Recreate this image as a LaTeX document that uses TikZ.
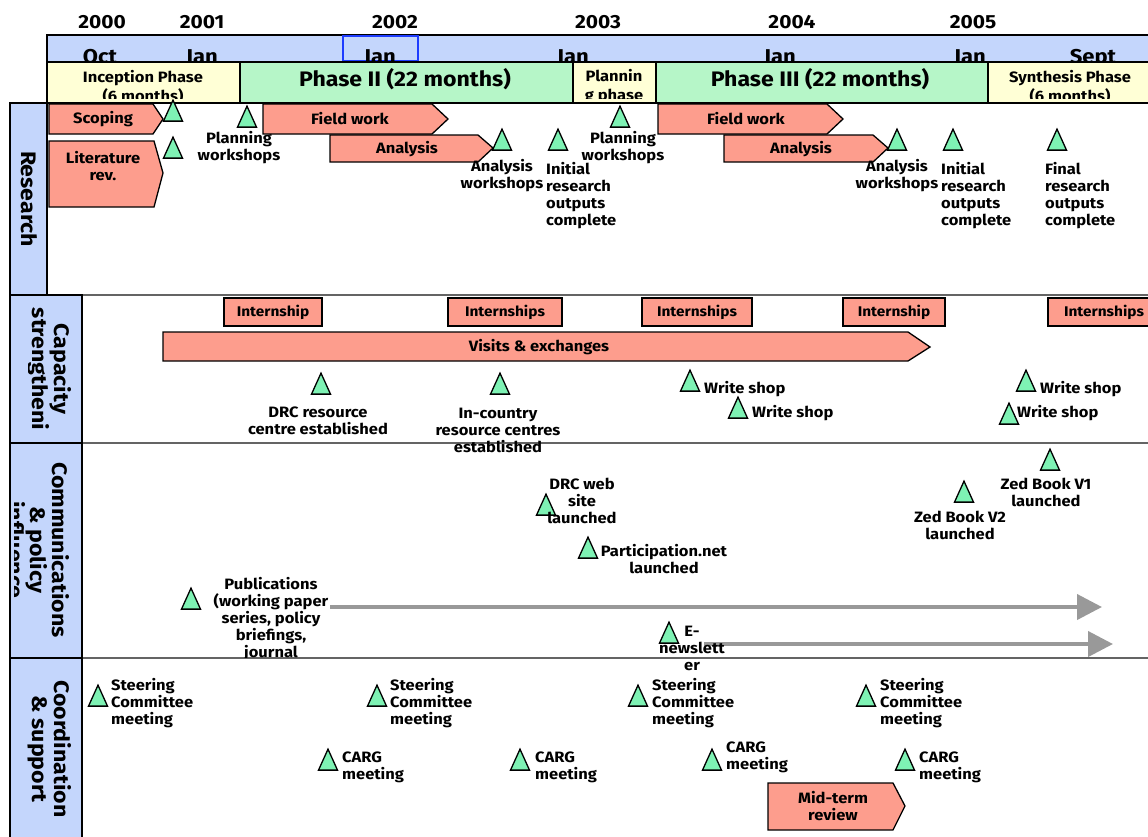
\documentclass[tikz,border=0pt]{standalone}
\usepackage{fontspec}
\setmainfont{Fira Sans}[FakeStretch=1.1]
\usetikzlibrary{arrows.meta,shapes.geometric}
\definecolor{salmon}{RGB}{253,157,141}
\definecolor{msgreen}{RGB}{126,242,180}
\definecolor{rowblue}{RGB}{196,214,252}
\definecolor{phaseyellow}{RGB}{255,255,214}
\definecolor{phasegreen}{RGB}{182,246,200}
\definecolor{sepgray}{RGB}{100,100,100}
\definecolor{arrgray}{RGB}{153,153,153}
\definecolor{janblue}{RGB}{30,60,255}

\begin{document}
\begin{tikzpicture}[x=1pt, y=-1pt,
    lbl/.style={font=\bfseries\fontsize{15}{17}\selectfont, align=center, inner sep=0},
    lbll/.style={lbl, align=left, anchor=west},
    boxtxt/.style={font=\bfseries\fontsize{15}{17}\selectfont, align=center, inner sep=0},
    phasetxt/.style={boxtxt, font=\bfseries\fontsize{15}{19}\selectfont},
    ms/.style={isosceles triangle, isosceles triangle stretches, shape border rotate=90,
        minimum width=19, minimum height=21, inner sep=0, draw=black, line width=1.3pt, fill=msgreen},
    chev/.style={draw=black, line width=1.3pt, fill=salmon},
    intern/.style={boxtxt, font=\bfseries\fontsize{14}{17}\selectfont, draw=black, line width=1.3pt, fill=salmon, minimum height=28},
    hdr/.style={draw=black, line width=1.5pt},
    rowbox/.style={draw=black, line width=1.5pt, fill=rowblue},
    rowtxt/.style={rotate=-90, font=\bfseries\fontsize{21}{22}\selectfont, align=center, inner sep=0},
    year/.style={font=\bfseries\fontsize{19}{22}\selectfont, inner sep=0},
    month/.style={font=\bfseries\fontsize{20}{22}\selectfont, inner sep=0, anchor=base},
    bigphase/.style={font=\bfseries\fontsize{21}{22}\selectfont, inner sep=0},
    sep/.style={sepgray, line width=2.5pt},
    flow/.style={arrgray, line width=4pt, -{Triangle[length=25pt, width=25pt]}}]
    \clip (0,0) rectangle (1148,836);

    % row separators
    \draw[sep] (47,295) -- (1150,295);
    \draw[sep] (47,443) -- (1150,443);
    \draw[sep] (47,658) -- (1150,658);

    % row titles
    \draw[rowbox] (10,103) rectangle (47,295);
    \node[rowtxt] (research) at (29,199) {Research};
    \draw[rowbox] (10,295) rectangle (82,443);
    \begin{scope}
        \clip (28,297) rectangle (80,441);
        \node[rowtxt] (capacity) at (39,369) {Capacity\\strengtheni\\ng};
    \end{scope}
    \draw[rowbox] (10,443) rectangle (82,658);
    \begin{scope}
        \clip (14,445) rectangle (80,656);
        \node[rowtxt] (comms) at (39,550) {Communications\\\& policy\\influence};
    \end{scope}
    \draw[rowbox] (10,658) rectangle (82,845);
    \node[rowtxt] (coord) at (50,749) {Coordination\\\& support};

    % years
    \node[year] (y2000) at (102,22) {2000};
    \node[year] (y2001) at (202,22) {2001};
    \node[year] (y2002) at (395,22) {2002};
    \node[year] (y2003) at (598,22) {2003};
    \node[year] (y2004) at (792,22) {2004};
    \node[year] (y2005) at (973,22) {2005};

    % month bar
    \draw[hdr, fill=rowblue] (47,35) rectangle (1152,62);
    \draw[janblue, line width=1.2pt] (343,36) rectangle (418,61);
    \begin{scope}
        \clip (47,35) rectangle (1148,61);
        \node[month] (moct) at (100,63) {Oct};
        \node[month] (mjan1) at (202,63) {Jan};
        \node[month] (mjan2) at (380,63) {Jan};
        \node[month] (mjan3) at (573,63) {Jan};
        \node[month] (mjan4) at (780,63) {Jan};
        \node[month] (mjan5) at (970,63) {Jan};
        \node[month] (msept) at (1093,63) {Sept};
    \end{scope}

    % phase bar
    \draw[hdr, fill=phaseyellow] (47,62) rectangle (240,103);
    \draw[hdr, fill=phasegreen] (240,62) rectangle (573,103);
    \draw[hdr, fill=phaseyellow] (573,62) rectangle (656,103);
    \draw[hdr, fill=phasegreen] (656,62) rectangle (988,103);
    \draw[hdr, fill=phaseyellow] (988,62) rectangle (1152,103);
    \begin{scope}
        \clip (47,62) rectangle (1148,98);
        \node[phasetxt] (inception) at (143,87) {Inception Phase\\(6 months)};
        \node[bigphase] (phase2) at (405,79) {Phase II (22 months)};
        \node[phasetxt] (planning) at (614,87) {Plannin\\g phase};
        \node[bigphase] (phase3) at (820,79) {Phase III (22 months)};
        \node[phasetxt] (synthesis) at (1070,87) {Synthesis Phase\\(6 months)};
    \end{scope}

    % Research
    \draw[chev] (49,104) -- (153,104) -- (163,119) -- (153,134) -- (49,134) -- cycle;
    \node[boxtxt] (scoping) at (103,119) {Scoping};
    \draw[chev] (49,141) -- (154,141) -- (163,173) -- (154,207) -- (49,207) -- cycle;
    \node[boxtxt] (litrev) at (103,166) {Literature\\rev.};
    \draw[chev] (263,104) -- (432,104) -- (448,119) -- (432,134) -- (263,134) -- cycle;
    \node[boxtxt] (field1) at (350,119) {Field work};
    \draw[chev] (330,135) -- (478,135) -- (493,148) -- (478,162) -- (330,162) -- cycle;
    \node[boxtxt] (anal1) at (407,149) {Analysis};
    \draw[chev] (658,104) -- (827,104) -- (843,119) -- (827,134) -- (658,134) -- cycle;
    \node[boxtxt] (field2) at (746,119) {Field work};
    \draw[chev] (724,135) -- (873,135) -- (888,148) -- (873,162) -- (724,162) -- cycle;
    \node[boxtxt] (anal2) at (801,149) {Analysis};

    \node[ms] (scopems) at (173,115) {};
    \node[ms] (litms) at (173,152) {};
    \node[ms] (plan1ms) at (247,121) {};
    \node[lbl] (plan1) at (239,148) {Planning\\workshops};
    \node[ms] (ana1ms) at (502,144) {};
    \node[lbl] (ana1) at (502,176) {Analysis\\workshops};
    \node[ms] (init1ms) at (558,144) {};
    \node[lbll] (init1) at (546,196) {Initial\\research\\outputs\\complete};
    \node[ms] (plan2ms) at (620,121) {};
    \node[lbl] (plan2) at (623,148) {Planning\\workshops};
    \node[ms] (ana2ms) at (897,144) {};
    \node[lbl] (ana2) at (897,176) {Analysis\\workshops};
    \node[ms] (init2ms) at (953,144) {};
    \node[lbll] (init2) at (941,196) {Initial\\research\\outputs\\complete};
    \node[ms] (finalms) at (1057,144) {};
    \node[lbll] (final) at (1045,196) {Final\\research\\outputs\\complete};

    % Capacity strengthening
    \node[intern, minimum width=98] (intern1) at (273,312) {Internship};
    \node[intern, minimum width=114] (intern2) at (505,312) {Internships};
    \node[intern, minimum width=110] (intern3) at (697,312) {Internships};
    \node[intern, minimum width=102] (intern4) at (894,312) {Internship};
    \node[intern, minimum width=112] (intern5) at (1104,312) {Internships};
    \draw[chev] (163,332) -- (908,332) -- (930,347) -- (908,361) -- (163,361) -- cycle;
    \node[boxtxt] (visits) at (539,347) {Visits \& exchanges};

    \node[ms] (drcms) at (321,388) {};
    \node[lbl] (drc) at (318,421) {DRC resource\\centre established};
    \node[ms] (incms) at (500,388) {};
    \node[lbl] (incountry) at (498,430) {In-country\\resource centres\\established};
    \node[ms] (ws1ms) at (690,385) {};
    \node[lbll] (ws1) at (704,389) {Write shop};
    \node[ms] (ws2ms) at (738,412) {};
    \node[lbll] (ws2) at (752,413) {Write shop};
    \node[ms] (ws3ms) at (1026,385) {};
    \node[lbll] (ws3) at (1040,389) {Write shop};
    \node[ms] (ws4ms) at (1009,418) {};
    \node[lbll] (ws4) at (1017,413) {Write shop};

    % Communications & policy influence
    \node[ms] (zed1ms) at (1050,464) {};
    \node[lbl] (zed1) at (1046,492) {Zed Book V1\\launched};
    \node[ms] (zed2ms) at (964,496) {};
    \node[lbl] (zed2) at (960,525) {Zed Book V2\\launched};
    \node[ms] (webms) at (546,509) {};
    \node[lbl] (web) at (582,501) {DRC web\\site\\launched};
    \node[ms] (partms) at (588,552) {};
    \node[lbl] (part) at (664,559) {Participation.net\\launched};
    \node[ms] (pubms) at (191,603) {};
    \begin{scope}
        \clip (82,443) rectangle (1148,657);
        \node[lbl] (pub) at (271,619) {Publications\\(working paper\\series, policy\\briefings,\\journal};
    \end{scope}
    \coordinate (pubstart) at (330,607);
    \coordinate (pubend) at (1102,607);
    \draw[flow] (pubstart) -- (pubend);
    \node[ms] (newsms) at (669,637) {};
    \coordinate (newsstart) at (704,644);
    \coordinate (newsend) at (1113,644);
    \draw[flow] (newsstart) -- (newsend);
    \node[lbl] (news) at (692,648) {E-\\newslett\\er};

    % Coordination & support
    \node[ms] (sc1ms) at (98,700) {};
    \node[lbll] (sc1) at (111,703) {Steering\\Committee\\meeting};
    \node[ms] (sc2ms) at (377,700) {};
    \node[lbll] (sc2) at (390,703) {Steering\\Committee\\meeting};
    \node[ms] (sc3ms) at (638,700) {};
    \node[lbll] (sc3) at (652,703) {Steering\\Committee\\meeting};
    \node[ms] (sc4ms) at (866,700) {};
    \node[lbll] (sc4) at (880,703) {Steering\\Committee\\meeting};
    \node[ms] (carg1ms) at (328,764) {};
    \node[lbll] (carg1) at (342,767) {CARG\\meeting};
    \node[ms] (carg2ms) at (520,764) {};
    \node[lbll] (carg2) at (535,767) {CARG\\meeting};
    \node[ms] (carg3ms) at (712,764) {};
    \node[lbll] (carg3) at (726,757) {CARG\\meeting};
    \node[ms] (carg4ms) at (905,764) {};
    \node[lbll] (carg4) at (919,767) {CARG\\meeting};
    \draw[chev] (768,783) -- (893,783) -- (905,806) -- (893,830) -- (768,830) -- cycle;
    \node[boxtxt] (midterm) at (833,806) {Mid-term\\review};
\end{tikzpicture}
\end{document}
